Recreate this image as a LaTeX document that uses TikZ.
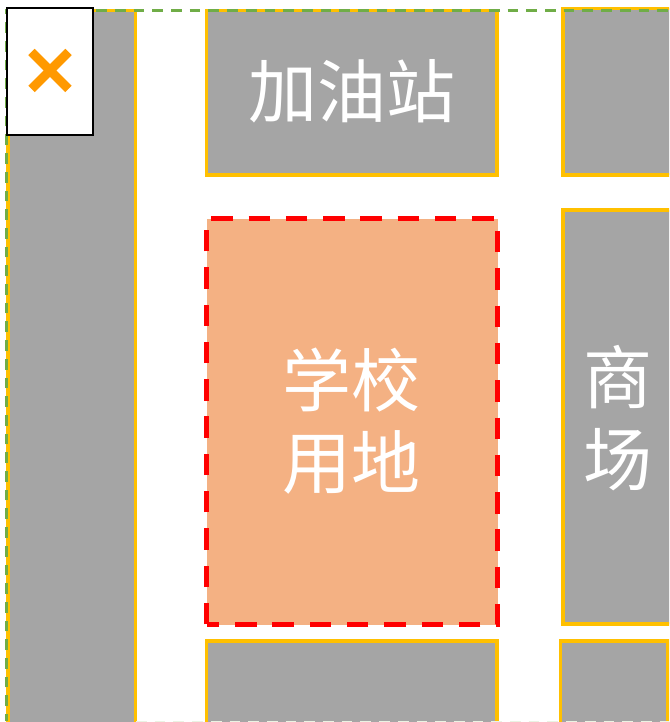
\documentclass[tikz,border=0pt]{standalone}
\usepackage{fontspec}
\newfontfamily\cjk{Noto Sans CJK SC}
\definecolor{blockgray}{HTML}{A5A5A5}
\definecolor{blockedge}{HTML}{FFC000}
\definecolor{schoolfill}{HTML}{F4B183}
\definecolor{greenedge}{HTML}{70AD47}
\definecolor{crossorange}{HTML}{FF9900}
\tikzset{
  block/.style={fill=blockgray,draw=blockedge,line width=3.2pt},
  label/.style={text=white,font=\cjk\fontsize{69}{82}\selectfont,inner sep=0pt,align=center},
}
\begin{document}
\begin{tikzpicture}[x=1pt,y=-1pt]
\clip (0,0) rectangle (669,722);
\fill[white] (0,0) rectangle (669,722);
% blocks
\draw[block] (8,10.5) rectangle (135.5,730);
\draw[block] (206.5,10.5) rectangle (497,175);
\draw[block] (563,8.5) rectangle (680,175);
\draw[block] (563,210) rectangle (680,624);
\draw[block] (206.5,641) rectangle (497,730);
\draw[block] (560.5,641) rectangle (668,730);
% site boundary
\draw[greenedge,line width=2.8pt,dash pattern=on 10.7pt off 8pt,dash phase=3.8pt] (6.5,721) -- (6.5,10.4) -- (672,10.4);
\draw[greenedge!15,line width=2pt,dash pattern=on 10.7pt off 8pt] (136,721.5) -- (669,721.5);
% school
\fill[schoolfill] (206.5,219) rectangle (497.5,625);
\draw[red,line width=5.3pt,dash pattern=on 21.4pt off 15.9pt] (206.5,624.3) -- (206.5,218.7) -- (497.3,218.7) -- (497.3,624.3) -- cycle;
% icon box
\draw[black,fill=white,line width=2pt] (7,8) rectangle (93,135);
\draw[crossorange,line width=9pt] (31.5,52) -- (68.5,89);
\draw[crossorange,line width=9pt] (68.5,52) -- (31.5,89);
% labels
\node[label] (station) at (351.5,91) {加油站};
\node[label] (school) at (351.5,421) {学校\\用地};
\node[label] (mall) at (617.5,418) {商\\场};
\end{tikzpicture}
\end{document}
